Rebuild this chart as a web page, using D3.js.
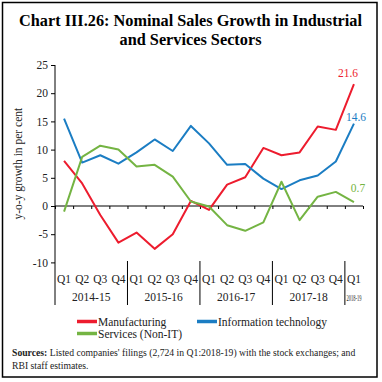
<!DOCTYPE html>
<html><head><meta charset="utf-8">
<script src="https://cdn.jsdelivr.net/npm/d3@7"></script>
<style>
body{margin:0;background:#fff;}
svg{display:block;}
text{font-family:"Liberation Serif","DejaVu Serif",serif;}
</style></head>
<body>
<svg id="c" width="382" height="382"></svg>
<script>
const quarters = ["Q1","Q2","Q3","Q4","Q1","Q2","Q3","Q4","Q1","Q2","Q3","Q4","Q1","Q2","Q3","Q4","Q1"];
const years = ["2014-15","2015-16","2016-17","2017-18","2018-19"];
const yearSpans = [4,4,4,4,1];
const manufacturing = [8.0,4.0,-1.6,-6.5,-4.7,-7.6,-5.0,0.9,-0.7,3.8,5.1,10.3,9.0,9.5,14.1,13.5,21.6];
const infoTech = [15.5,7.7,9.0,7.5,9.5,11.8,9.75,14.2,11.1,7.3,7.45,4.85,3.0,4.55,5.4,7.9,14.6];
const services = [-1.0,8.7,10.7,10.0,7.0,7.3,5.2,0.8,-0.1,-3.4,-4.4,-2.9,4.3,-2.5,1.65,2.5,0.7];
const yTicks = [-10,-5,0,5,10,15,20,25];
const seriesNames = ["Manufacturing","Information technology","Services (Non-IT)"];
const colors = ["#ED1C2E","#1B7DC3","#74B443"];

const svg = d3.select("#c");
// border
svg.append("rect").attr("x",2.5).attr("y",2.5).attr("width",374.5).attr("height",374.5)
  .attr("fill","none").attr("stroke","#000").attr("stroke-width",1.5);

// title
svg.append("text").attr("x",190.5).attr("y",25.5).attr("text-anchor","middle")
  .attr("font-weight","bold").attr("font-size",16.3).text("Chart III.26: Nominal Sales Growth in Industrial");
svg.append("text").attr("x",190.5).attr("y",44.5).attr("text-anchor","middle")
  .attr("font-weight","bold").attr("font-size",16.3).text("and Services Sectors");

const left = 55, right = 363;
const idx = d3.range(quarters.length);
const x = d3.scalePoint().domain(idx).range([left, right]).padding(0.5);
const xb = d3.scaleLinear().domain([0, quarters.length]).range([left, right]);
const y = d3.scaleLinear().domain([-10,25]).range([262.4,65]);

// y axis
const ya = svg.append("g").attr("transform",`translate(${left},0)`)
  .call(d3.axisLeft(y).tickValues(yTicks).tickSize(4).tickPadding(3).tickFormat(d=>d));
ya.select(".domain").remove();
ya.selectAll("text").attr("font-family","Liberation Serif").attr("font-size",11.5).attr("fill","#222");
ya.selectAll("line").attr("stroke","#000");
svg.append("line").attr("x1",left).attr("x2",left).attr("y1",y(25)).attr("y2",305).attr("stroke","#000").attr("stroke-width",1);

// x axis at zero
const xa = svg.append("g").attr("transform",`translate(0,${y(0)})`)
  .call(d3.axisBottom(xb).tickValues(d3.range(quarters.length+1)).tickSize(3).tickFormat(""));
xa.select(".domain").attr("d",`M${left},0H${right}`);
xa.selectAll("line").attr("stroke","#000");

// quarter labels
svg.append("g").selectAll("text").data(idx).join("text")
  .attr("x",d=>x(d)).attr("y",283).attr("text-anchor","middle")
  .attr("font-size",11.5).attr("fill","#222").text(d=>quarters[d]);

// year separators and labels
let acc = 0;
years.forEach((yr,i)=>{
  const s = acc, e = acc + yearSpans[i];
  if (i>0) svg.append("line").attr("x1",xb(s)).attr("x2",xb(s)).attr("y1",261).attr("y2",305).attr("stroke","#000");
  const t = svg.append("text").attr("x",(xb(s)+xb(e))/2).attr("y",301).attr("text-anchor","middle")
    .attr("fill","#222").text(yr);
  if (yearSpans[i]===1) t.attr("font-size",8.5).attr("textLength",15).attr("lengthAdjust","spacingAndGlyphs");
  else t.attr("font-size",11.5);
  acc = e;
});

// y label
svg.append("text").attr("transform",`translate(22,${(y(25)+y(-10))/2}) rotate(-90)`)
  .attr("text-anchor","middle").attr("font-size",11.5).attr("fill","#222").text("y-o-y growth in per cent");

// lines
const line = d3.line().x((d,i)=>x(i)).y(d=>y(d));
[manufacturing, infoTech, services].forEach((s,k)=>{
  svg.append("path").datum(s).attr("d",line).attr("fill","none")
    .attr("stroke",colors[k]).attr("stroke-width",2).attr("stroke-linejoin","round");
});

// end labels
const last = quarters.length-1;
svg.append("text").attr("x",x(last)-6).attr("y",y(manufacturing[last])-7).attr("text-anchor","middle")
  .attr("font-size",11.5).attr("fill",colors[0]).text(manufacturing[last].toFixed(1));
svg.append("text").attr("x",x(last)+2).attr("y",y(infoTech[last])-3).attr("text-anchor","middle")
  .attr("font-size",11.5).attr("fill",colors[1]).text(infoTech[last].toFixed(1));
svg.append("text").attr("x",x(last)+4).attr("y",y(services[last])-10).attr("text-anchor","middle")
  .attr("font-size",11.5).attr("fill",colors[2]).text(services[last].toFixed(1));

// legend
const legendPos = [[77,321.5],[197,321.5],[77,333.5]];
seriesNames.forEach((n,k)=>{
  const [lx,ly] = legendPos[k];
  svg.append("line").attr("x1",lx).attr("x2",lx+20).attr("y1",ly).attr("y2",ly)
    .attr("stroke",colors[k]).attr("stroke-width",3.5);
  svg.append("text").attr("x",lx+21).attr("y",ly+4).attr("font-size",11.5).attr("fill","#222").text(n);
});

// sources
const src = svg.append("text").attr("x",12).attr("y",356).attr("font-size",9.7).attr("fill","#222");
src.append("tspan").attr("font-weight","bold").text("Sources:");
src.append("tspan").text(" Listed companies' filings (2,724 in Q1:2018-19) with the stock exchanges; and");
svg.append("text").attr("x",12).attr("y",369).attr("font-size",9.7).attr("fill","#222").text("RBI staff estimates.");
</script>
</body></html>
